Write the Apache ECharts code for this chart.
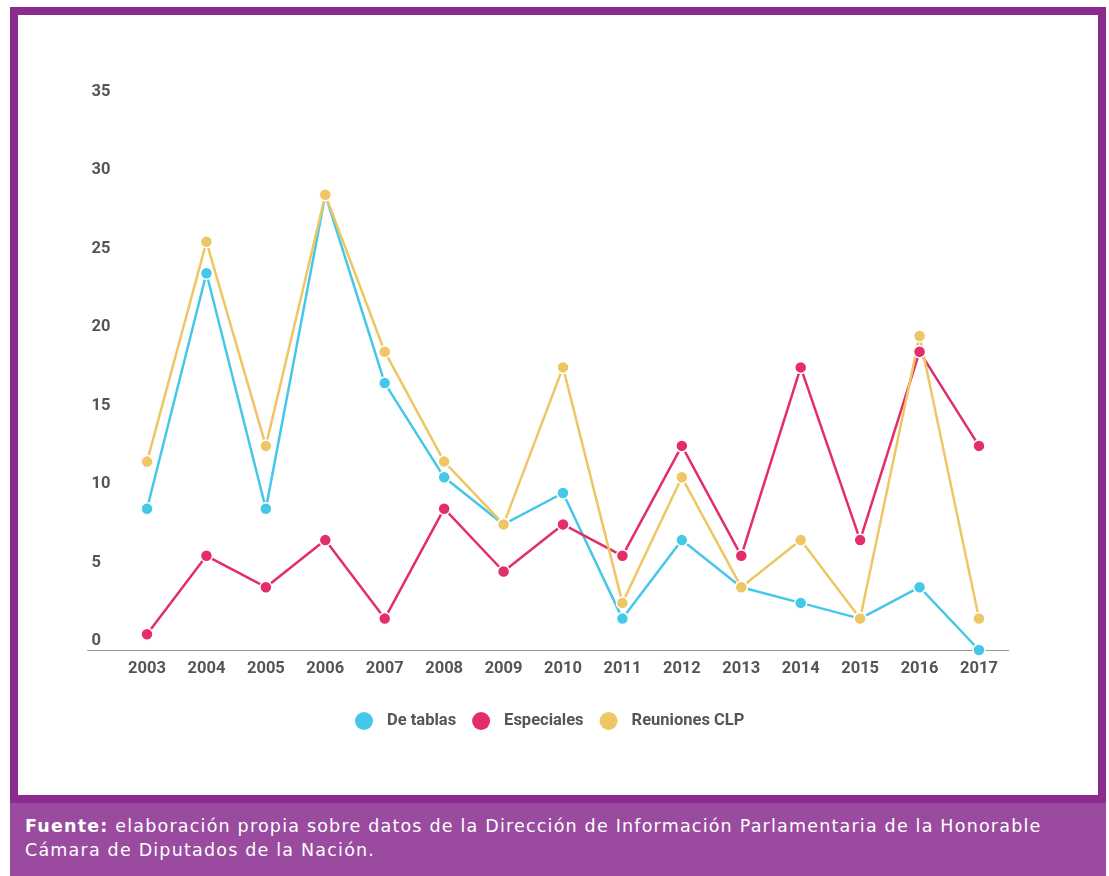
<!DOCTYPE html>
<html lang="es">
<head>
<meta charset="UTF-8">
<title>Reuniones por año</title>
<script src="https://cdn.jsdelivr.net/npm/echarts@6/dist/echarts.min.js"></script>
<style>
  body { margin: 0; background: #fff; width: 1109px; height: 876px; position: relative; overflow: hidden; }
  .frame { position: absolute; left: 10px; top: 7px; width: 1080px; height: 780px; border: 8px solid #8b2b8f; background: #fff; }
  .footer { position: absolute; left: 10px; top: 803px; width: 1096px; height: 73px; background: #9a4b9f; color: #fff;
    font-family: "DejaVu Sans", sans-serif; font-size: 17.5px; line-height: 24px; letter-spacing: 1.2px; box-sizing: border-box; padding: 11px 0 0 15px; white-space: nowrap; }
  .footer b { font-weight: bold; }
  #chart { position: absolute; left: 0; top: 0; width: 1109px; height: 800px; }
</style>
</head>
<body>
<div class="frame"></div>
<div class="footer"><b>Fuente:</b> elaboración propia sobre datos de la Dirección de Información Parlamentaria de la Honorable<br>Cámara de Diputados de la Nación.</div>
<div id="chart"></div>
<script>
// años (eje x)
const years = [2003, 2004, 2005, 2006, 2007, 2008, 2009, 2010, 2011, 2012, 2013, 2014, 2015, 2016, 2017]

// series
const deTablas = [9, 24, 9, 29, 17, 11, 8, 10, 2, 7, 4, 3, 2, 4, 0]
const especiales = [1, 6, 4, 7, 2, 9, 5, 8, 6, 13, 6, 18, 7, 19, 13]
const reunionesCLP = [12, 26, 13, 29, 19, 12, 8, 18, 3, 11, 4, 7, 2, 20, 2]

const seriesNames = ['De tablas', 'Especiales', 'Reuniones CLP']
const seriesColors = ['#45c8e8', '#e42d6b', '#eec664']

const yTicks = { min: 0, max: 35, interval: 5 }

const txt = { color: '#555', fontFamily: 'Roboto', fontWeight: 'bold', fontSize: 16.5 }

function mkSeries(name, values, color) {
  return {
    name,
    type: 'line',
    data: values.map((v, i) => [years[i], v]),
    symbol: 'circle',
    symbolSize: 12,
    lineStyle: { color, width: 2.5 },
    itemStyle: { color, borderColor: '#fff', borderWidth: 1.5 },
    emphasis: { disabled: true }
  }
}

const chart = echarts.init(document.getElementById('chart'))
chart.setOption({
  animation: false,
  grid: { left: 87.6, right: 100.3, top: 100.5, bottom: 150 },
  legend: {
    data: seriesNames.map((n, i) => ({ name: n, icon: 'circle', itemStyle: { color: seriesColors[i], borderWidth: 0 } })),
    top: 707,
    left: 350,
    itemWidth: 36,
    itemHeight: 18,
    itemGap: 16,
    textStyle: Object.assign({}, txt, { fontSize: 16.5 })
  },
  xAxis: {
    type: 'value',
    min: 2002,
    max: 2017.5,
    interval: 1,
    splitLine: { show: false },
    axisTick: { show: false },
    axisLine: { show: true, lineStyle: { color: '#999', width: 1 } },
    axisLabel: Object.assign({}, txt, {
      margin: 10,
      showMaxLabel: false,
      formatter: v => (v >= years[0] && v % 1 === 0) ? String(v) : ''
    })
  },
  yAxis: {
    type: 'value',
    min: yTicks.min,
    max: yTicks.max,
    interval: yTicks.interval,
    splitLine: { show: false },
    axisLine: { show: false },
    axisTick: { show: false },
    axisLabel: Object.assign({}, txt, { align: 'left', margin: -4, verticalAlign: 'bottom', lineHeight: 18 })
  },
  series: [
    mkSeries(seriesNames[0], deTablas, seriesColors[0]),
    mkSeries(seriesNames[1], especiales, seriesColors[1]),
    mkSeries(seriesNames[2], reunionesCLP, seriesColors[2])
  ]
})
</script>
</body>
</html>
